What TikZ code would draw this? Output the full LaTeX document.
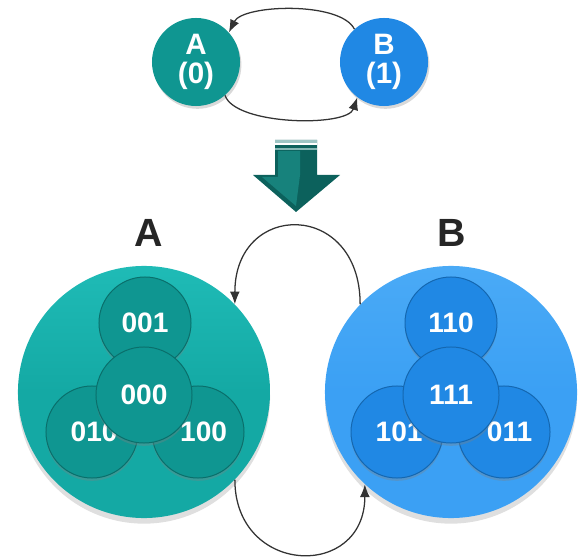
\documentclass[tikz,border=0pt]{standalone}
\usepackage{fontspec}
\setmainfont{Liberation Sans}
\usepackage{xcolor}
\usepackage{tikz}
\usetikzlibrary{arrows.meta,shadows}

\definecolor{tealbig}{HTML}{14A9A4}
\definecolor{tealtop}{HTML}{1FBBB6}
\definecolor{tealbit}{HTML}{0F9691}
\definecolor{tealrim}{HTML}{0A6F6B}
\definecolor{bluebig}{HTML}{3BA0F4}
\definecolor{bluetop}{HTML}{4AAAF6}
\definecolor{bluebit}{HTML}{2088E4}
\definecolor{bluerim}{HTML}{1467B0}
\definecolor{arrowdark}{HTML}{0C615C}
\definecolor{arrowlight}{HTML}{17827C}

\begin{document}
\begin{tikzpicture}[
			x=0.025cm, y=-0.025cm,
			state/.style={circle, inner sep=0pt, minimum size=2.2cm, align=center,
				text=white, font=\fontsize{21}{24}\selectfont\bfseries,
				drop shadow={shadow xshift=1pt, shadow yshift=-2pt, opacity=0.3}},
			group/.style={circle, inner sep=0pt, minimum size=6.3cm,
				drop shadow={shadow xshift=0pt, shadow yshift=-4pt, opacity=0.25}},
			bit/.style={circle, inner sep=0pt, minimum size=2.3cm, line width=0.7pt,
				text=white, font=\fontsize{20}{20}\selectfont\bfseries,
				drop shadow={shadow xshift=0pt, shadow yshift=-2pt, opacity=0.35}},
			groupname/.style={font=\fontsize{28}{28}\selectfont\bfseries, text=black!85},
			trans/.style={-{Latex[length=9pt,width=7pt]}, line width=0.9pt, black!80}]
			\useasboundingbox (0,0) rectangle (578,557);

			% two states
			\node[state, fill=tealbit] (topA) at (196,62) {A\\[-3pt](0)};
			\node[state, fill=bluebit] (topB) at (384,62) {B\\[-3pt](1)};
			\draw[trans] (topB.132) .. controls +(-14,-28) and +(14,-28) .. (topA.42);
			\draw[trans] (topA.-49) .. controls +(10,30) and +(-10,30) .. (topB.-127);

			% down arrow
			\fill[arrowdark] (275,140) -- (317,140) -- (317,175) -- (340,175)
				-- (296,212) -- (253,175) -- (275,175) -- cycle;
			\fill[arrowlight] (278,151) -- (300,151) -- (300,175) -- (296,206)
				-- (262,177) -- (278,177) -- cycle;
			\fill[tealrim!40!white] (275,140) rectangle (317,143);
			\fill[white] (275,143.5) rectangle (317,144.8);
			\fill[tealrim!50!white] (275,148.5) rectangle (317,150.5);

			% group A
			\node[groupname] (nameA) at (149,233) {A};
			\node[group, top color=tealtop, bottom color=tealbig, middle color=tealbig] (bigA) at (144,392) {};
			\node[bit, fill=tealbit, draw=tealrim] (a001) at (145,323) {001};
			\node[bit, fill=tealbit, draw=tealrim] (a010) at (92,432) {\hspace*{3pt}010};
			\node[bit, fill=tealbit, draw=tealrim] (a100) at (198,432) {\hspace*{8pt}100};
			\node[bit, fill=tealbit, draw=tealrim, minimum size=2.4cm] (a000) at (144,395) {000};

			% group B
			\node[groupname] (nameB) at (452,233) {B};
			\node[group, top color=bluetop, bottom color=bluebig, middle color=bluebig] (bigB) at (451,392) {};
			\node[bit, fill=bluebit, draw=bluerim] (b110) at (451,323) {110};
			\node[bit, fill=bluebit, draw=bluerim] (b101) at (397,432) {\hspace*{3pt}101};
			\node[bit, fill=bluebit, draw=bluerim] (b011) at (504,432) {\hspace*{8pt}011};
			\node[bit, fill=bluebit, draw=bluerim, minimum size=2.4cm] (b111) at (451,395) {111};

			% transitions between the groups
			\draw[trans] (bigB.136) .. controls +(0,-104) and +(0,-104) .. (bigA.44);
			\draw[trans] (bigA.-44) .. controls +(0,96) and +(0,96) .. (bigB.-133);
		\end{tikzpicture}
\end{document}
